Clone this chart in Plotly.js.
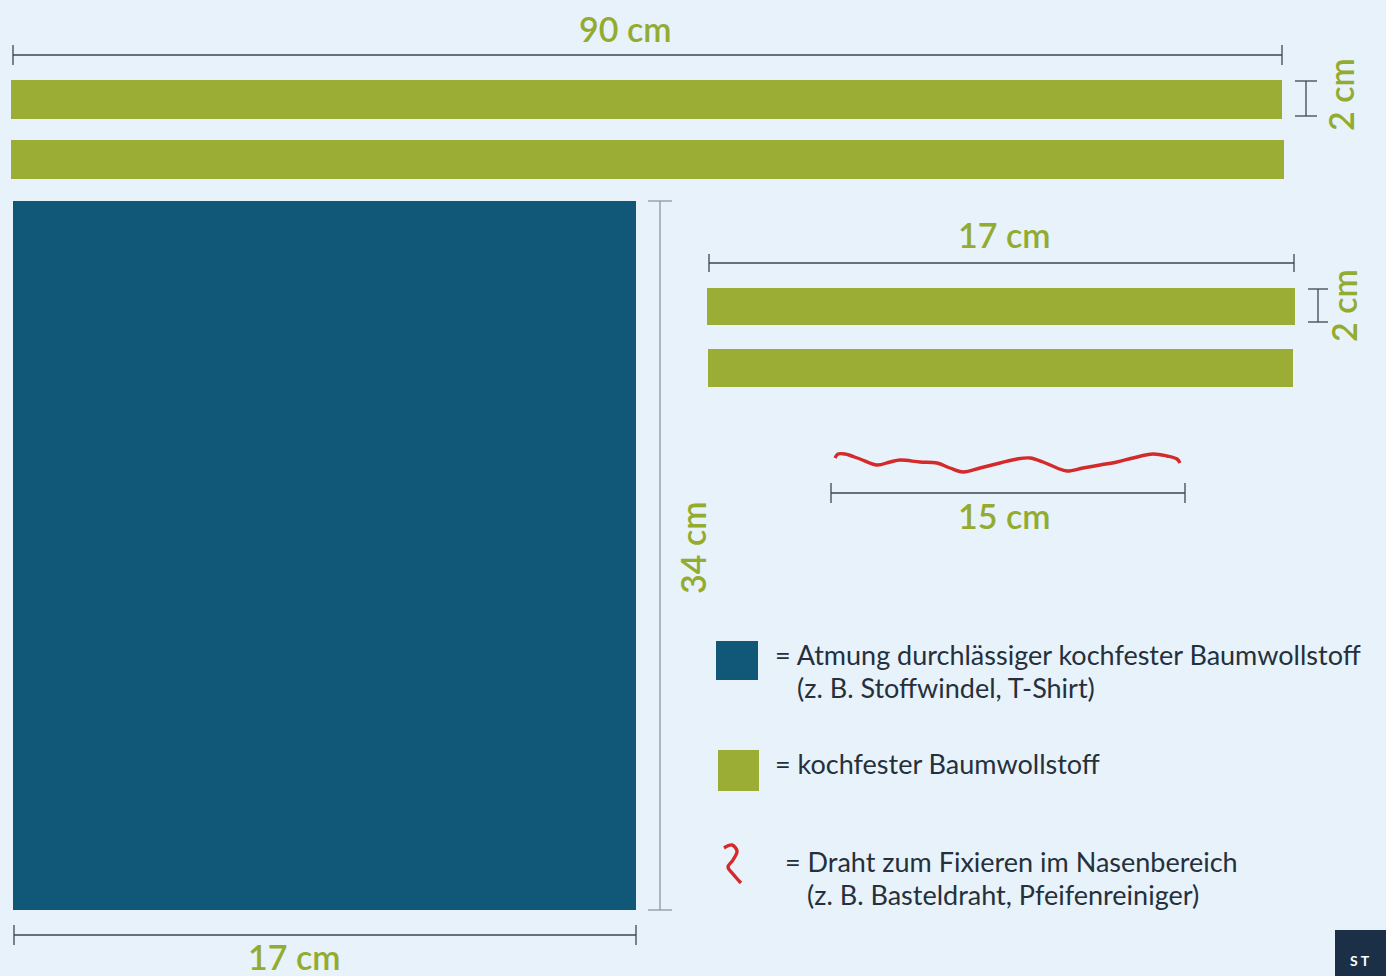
<!DOCTYPE html>
<html>
<head>
<meta charset="utf-8">
<script src="https://cdn.plot.ly/plotly-3.0.1.min.js"></script>
<style>html,body{margin:0;padding:0;background:#e7f2fb;}#chart{width:1386px;height:976px;}</style>
</head>
<body>
<div id="chart"></div>
<script>
// ---- content ----
const dimLabels = ["90 cm", "2 cm", "34 cm", "17 cm", "17 cm", "2 cm", "15 cm"];
const legendLines = [
  ["= Atmung durchlässiger kochfester Baumwollstoff", "(z. B. Stoffwindel, T-Shirt)"],
  ["= kochfester Baumwollstoff"],
  ["= Draht zum Fixieren im Nasenbereich", "(z. B. Basteldraht, Pfeifenreiniger)"]
];
const pieceColors = {blue: "#115878", green: "#9cad35", wire: "#d42a2a"};
// wire trace
const wireX = [835, 838, 845, 860, 877, 890, 900, 920, 937, 950, 963, 980, 1000, 1017, 1030, 1043, 1057, 1067, 1083, 1100, 1117, 1133, 1153, 1167, 1177, 1180];
const wireY = [458, 454, 454, 459, 465, 462, 460, 462, 463, 468, 472, 468, 463, 459, 458, 462, 468, 471, 468, 465, 462, 458, 454, 456, 459, 463];
const iconX = [724, 732, 737, 733, 728, 733, 741];
const iconY = [848, 845, 851, 860, 867, 874, 883];

// ---- drawing ----
const GREEN_TXT = "#93ab2e", DARK = "#3c4650", GREY = "#8c97a1";
const shapes = [];
function rect(x0, y0, x1, y1, c) { shapes.push({type: "rect", xref: "x", yref: "y", x0, y0, x1, y1, fillcolor: c, line: {width: 0}, layer: "above"}); }
function line(x0, y0, x1, y1, c, w) { shapes.push({type: "line", xref: "x", yref: "y", x0, y0, x1, y1, line: {color: c, width: w || 1.3}, layer: "above"}); }
function hdim(x0, x1, y, h, c) { line(x0, y, x1, y, c); line(x0, y - h, x0, y + h, c); line(x1, y - h, x1, y + h, c); }
function vdim(y0, y1, x, h, c) { line(x, y0, x, y1, c); line(x - h, y0, x + h, y0, c); line(x - h, y1, x + h, y1, c); }

// long strips
rect(11, 80, 1282, 119, pieceColors.green);
rect(11, 140, 1284, 179, pieceColors.green);
hdim(13, 1282, 55, 10, DARK);
vdim(81, 116, 1306, 11, DARK);
// main blue piece
rect(13, 201, 636, 910, pieceColors.blue);
vdim(201, 910, 660, 12, GREY);
hdim(14, 636, 935, 10, DARK);
// short strips
rect(707, 288, 1295, 325, pieceColors.green);
rect(708, 349, 1293, 387, pieceColors.green);
hdim(709, 1294, 263, 9, DARK);
vdim(289, 322, 1318, 10, DARK);
// wire dimension
hdim(831, 1185, 493, 10, DARK);
// legend squares
rect(716, 641, 758, 680, pieceColors.blue);
rect(718, 750, 759, 791, pieceColors.green);
// corner box
rect(1335, 930, 1386, 976, "#1b3047");

const labelFont = {family: "Lato, 'Open Sans', sans-serif", size: 34, color: GREEN_TXT, weight: 600};
const txtFont = {family: "Lato, 'Open Sans', sans-serif", size: 27, color: "#25303b"};
function ann(x, y, text, font, opts) {
  return Object.assign({x, y, xref: "x", yref: "y", text, showarrow: false, font, xanchor: "center", yanchor: "middle"}, opts || {});
}
const annotations = [
  ann(625, 28, dimLabels[0], labelFont),
  ann(1340, 95, dimLabels[1], labelFont, {textangle: -90}),
  ann(692, 548, dimLabels[2], labelFont, {textangle: -90}),
  ann(294, 956, dimLabels[3], labelFont),
  ann(1004, 234, dimLabels[4], labelFont),
  ann(1343, 306, dimLabels[5], labelFont, {textangle: -90}),
  ann(1004, 515, dimLabels[6], labelFont),
  ann(773, 654, legendLines[0][0], txtFont, {xanchor: "left"}),
  ann(795, 687, legendLines[0][1], txtFont, {xanchor: "left"}),
  ann(773, 763, legendLines[1][0], txtFont, {xanchor: "left"}),
  ann(783, 861, legendLines[2][0], txtFont, {xanchor: "left"}),
  ann(805, 894, legendLines[2][1], txtFont, {xanchor: "left"}),
  ann(1360, 960, "S T", {family: "Lato, sans-serif", size: 14, color: "#ffffff", weight: 700}, {xanchor: "center"})
];

const traces = [
  {x: wireX, y: wireY, type: "scatter", mode: "lines", line: {color: pieceColors.wire, width: 3.4, shape: "spline"}, hoverinfo: "skip"},
  {x: iconX, y: iconY, type: "scatter", mode: "lines", line: {color: pieceColors.wire, width: 3.4, shape: "spline"}, hoverinfo: "skip"}
];

const layout = {
  width: 1386, height: 976,
  margin: {l: 0, r: 0, t: 0, b: 0},
  paper_bgcolor: "#e7f2fb", plot_bgcolor: "#e7f2fb",
  showlegend: false,
  xaxis: {range: [0, 1386], visible: false, fixedrange: true},
  yaxis: {range: [976, 0], visible: false, fixedrange: true},
  shapes, annotations
};
Plotly.newPlot("chart", traces, layout, {staticPlot: true, displayModeBar: false});
</script>
</body>
</html>
